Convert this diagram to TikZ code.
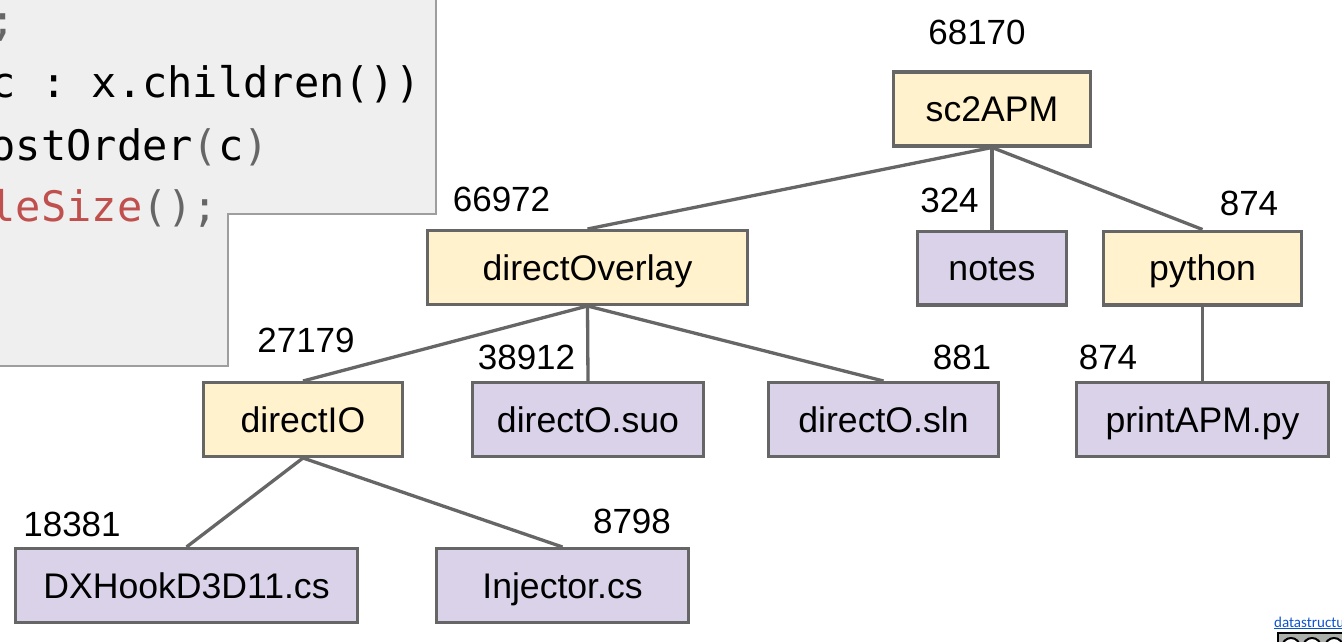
\documentclass[tikz,border=0pt]{standalone}
\usepackage{fontspec}
\setmainfont{Liberation Sans}
\newfontfamily\codefont{DejaVu Sans Mono}
\newfontfamily\linkfont{Carlito}
\definecolor{boxyellow}{HTML}{FFF2CC}
\definecolor{boxpurple}{HTML}{D9D2E9}
\definecolor{edgegray}{HTML}{666666}
\definecolor{codebg}{HTML}{EFEFEF}
\definecolor{codeborder}{HTML}{9E9E9E}
\definecolor{codered}{HTML}{C0504D}
\definecolor{codegray}{HTML}{666666}
\definecolor{linkblue}{HTML}{1155CC}
\definecolor{ccgray}{HTML}{ABB1AA}
\frenchspacing
\tikzset{
  treebox/.style={draw=edgegray, line width=3.4pt, inner sep=0pt, text height=25.5pt, text depth=0pt,
    font=\fontsize{35.6}{42}\selectfont, minimum height=73.6pt},
  dirbox/.style={treebox, fill=boxyellow},
  filebox/.style={treebox, fill=boxpurple},
  sizelabel/.style={inner sep=0pt, text height=25pt, text depth=0pt, font=\fontsize{35}{42}\selectfont},
  treeedge/.style={draw=edgegray, line width=3.3pt},
  codeline/.style={anchor=base west, inner sep=0pt, font=\codefont\fontsize{42}{50}\selectfont},
}
\begin{document}
\begin{tikzpicture}[x=1pt,y=-1pt]
\useasboundingbox (0,0) rectangle (1342,642);
\clip (0,0) rectangle (1342,642);
\fill[white] (0,0) rectangle (1342,642);

% code panel
\path[fill=codebg, draw=codeborder, line width=2pt] (-10,-10) -- (436,-10) -- (436,214) -- (228,214) -- (228,366) -- (-10,366) -- cycle;
\node[codeline] (c0) at (-34.8,36) {s\textcolor{codegray}{;}};
\node[codeline] (c1) at (-9.5,98) {c : x.children())};
\node[codeline] (c2) at (-9.5,160) {ostOrder\textcolor{codegray}{(}c\textcolor{codegray}{)}};
\node[codeline] (c3) at (-9.5,221) {\textcolor{codered}{leSize}\textcolor{codegray}{();}};

% tree nodes
\node[dirbox, minimum width=197pt] (sc2) at (992,109) {sc2APM};
\node[dirbox, minimum width=320pt] (dov) at (587.5,267.5) {directOverlay};
\node[filebox, minimum width=149pt] (notes) at (992,268) {notes};
\node[dirbox, minimum width=198pt] (py) at (1202.5,268) {python};
\node[dirbox, minimum width=199pt] (dio) at (303,419.5) {directIO};
\node[filebox, minimum width=231pt] (suo) at (588,419.5) {directO.suo};
\node[filebox, minimum width=230pt] (sln) at (883.5,419.5) {directO.sln};
\node[filebox, minimum width=252pt] (papm) at (1202.5,419.5) {printAPM.py};
\node[filebox, minimum width=342pt] (dx) at (186.5,585.5) {DXHookD3D11.cs};
\node[filebox, minimum width=252pt] (inj) at (562.5,585.5) {Injector.cs};

% size labels
\node[sizelabel] (l68170) at (977,32) {68170};
\node[sizelabel] (l66972) at (501.5,199) {66972};
\node[sizelabel] (l324) at (949.5,200) {324};
\node[sizelabel] (l874a) at (1249,203) {874};
\node[sizelabel] (l27179) at (306,340) {27179};
\node[sizelabel] (l38912) at (526.5,357) {38912};
\node[sizelabel] (l881) at (962,357) {881};
\node[sizelabel] (l874b) at (1108,357) {874};
\node[sizelabel] (l18381) at (72,524) {18381};
\node[sizelabel] (l8798) at (632,521) {8798};

% edges
\draw[treeedge] (sc2.south) -- (dov.north);
\draw[treeedge] (sc2.south) -- (notes.north);
\draw[treeedge] (sc2.south) -- (py.north);
\draw[treeedge] (py.south) -- (papm.north);
\draw[treeedge] (dov.south) -- (dio.north);
\draw[treeedge] (dov.south) -- (suo.north);
\draw[treeedge] (dov.south) -- (sln.north);
\draw[treeedge] (dio.south) -- (dx.north);
\draw[treeedge] (dio.south) -- (inj.north);

% footer link and licence badge
\node[anchor=base west, inner sep=0pt, text=linkblue, font=\linkfont\fontsize{15}{18}\selectfont] (link) at (1274,627) {\underline{datastructu}};
\path[fill=ccgray, draw=black, line width=1.5pt] (1278,633) rectangle (1352,660);
\path[fill=white, draw=black, line width=2pt] (1291,647) circle (9);
\path[fill=white, draw=black, line width=2pt] (1312,647) circle (9);
\path[fill=white, draw=black, line width=2pt] (1334,647) circle (9);
\end{tikzpicture}
\end{document}
